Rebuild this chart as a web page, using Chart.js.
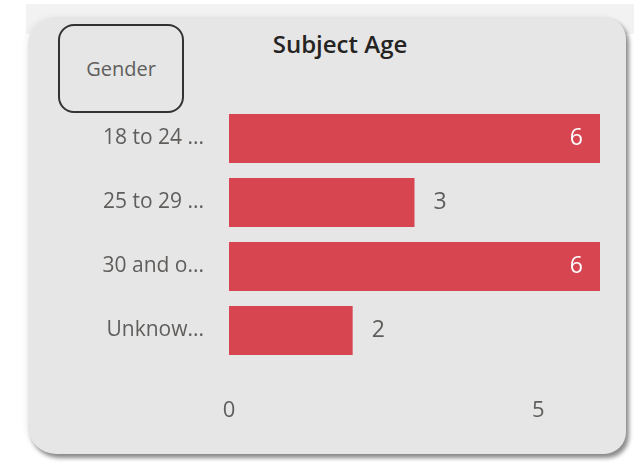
<!DOCTYPE html>
<html>
<head>
<meta charset="utf-8">
<script src="https://cdn.jsdelivr.net/npm/chart.js@4/dist/chart.umd.min.js"></script>
<style>
  html, body { margin: 0; padding: 0; background: #fff; }
  #wrap { position: relative; width: 634px; height: 464px; overflow: hidden; font-family: "Segoe UI", "Open Sans", sans-serif; }
  #strip { position: absolute; left: 26px; top: 4px; width: 608px; height: 30px; background: #f2f2f2; }
  #card { position: absolute; left: 28px; top: 17px; width: 598px; height: 437px; background: #e6e6e6;
          border-radius: 28px 22px 22px 28px; box-shadow: 3px 4px 4px rgba(0,0,0,0.45), -2px 0 6px rgba(0,0,0,0.06); }
  #gender { position: absolute; left: 58px; top: 24px; width: 122px; height: 85px; border: 2px solid #333;
            border-radius: 16px; color: #605e5c; font-size: 20px; display: flex; align-items: center; justify-content: center; }
  #title { position: absolute; left: 220px; top: 28px; width: 240px; line-height: 32px; text-align: center; color: #252423; font-size: 24px; font-weight: 600; }
  #chart { position: absolute; left: 0; top: 0; }
</style>
</head>
<body>
<div id="wrap">
  <div id="strip"></div>
  <div id="card"></div>
  <div id="gender">Gender</div>
  <div id="title">Subject Age</div>
  <canvas id="chart" width="634" height="464"></canvas>
</div>
<script>
const ageGroups = ['18 to 24 ...', '25 to 29 ...', '30 and o...', 'Unknow...'];
const subjectCounts = [6, 3, 6, 2];
const xTickValues = [0, 5];

const barColor = '#d64550';
const textGray = '#605e5c';
const fontFamily = '"Segoe UI", "Open Sans", sans-serif';

// value labels: inside the bar end when long, just after it otherwise
const valueLabels = {
  id: 'valueLabels',
  afterDatasetsDraw(chart) {
    const ctx = chart.ctx;
    const meta = chart.getDatasetMeta(0);
    const max = Math.max(...subjectCounts);
    ctx.save();
    ctx.font = '23px ' + fontFamily;
    ctx.textBaseline = 'middle';
    meta.data.forEach((bar, i) => {
      const v = subjectCounts[i];
      if (v >= max * 0.8) {
        ctx.fillStyle = '#ffffff';
        ctx.textAlign = 'right';
        ctx.fillText(String(v), bar.x - 17, bar.y);
      } else {
        ctx.fillStyle = textGray;
        ctx.textAlign = 'left';
        ctx.fillText(String(v), bar.x + 19, bar.y);
      }
    });
    ctx.restore();
  }
};

new Chart(document.getElementById('chart'), {
  type: 'bar',
  data: {
    labels: ageGroups,
    datasets: [{
      data: subjectCounts,
      backgroundColor: barColor,
      borderWidth: 0,
      categoryPercentage: 1,
      barPercentage: 0.766
    }]
  },
  options: {
    indexAxis: 'y',
    responsive: false,
    animation: false,
    layout: { padding: { top: 106.5, right: 34, bottom: 0, left: 0 } },
    plugins: {
      legend: { display: false },
      tooltip: { enabled: false }
    },
    scales: {
      x: {
        min: 0,
        max: 6,
        grid: { display: false },
        border: { display: false },
        afterFit: (scale) => { scale.height = 101.5; },
        afterBuildTicks: (scale) => { scale.ticks = xTickValues.map(v => ({ value: v })); },
        ticks: {
          padding: 27,
          color: textGray,
          font: { family: fontFamily, size: 22 },
          maxRotation: 0
        }
      },
      y: {
        grid: { display: false },
        border: { display: false },
        afterFit: (scale) => { scale.width = 229; },
        ticks: {
          padding: 17,
          color: textGray,
          font: { family: fontFamily, size: 21 }
        }
      }
    }
  },
  plugins: [valueLabels]
});
</script>
</body>
</html>
